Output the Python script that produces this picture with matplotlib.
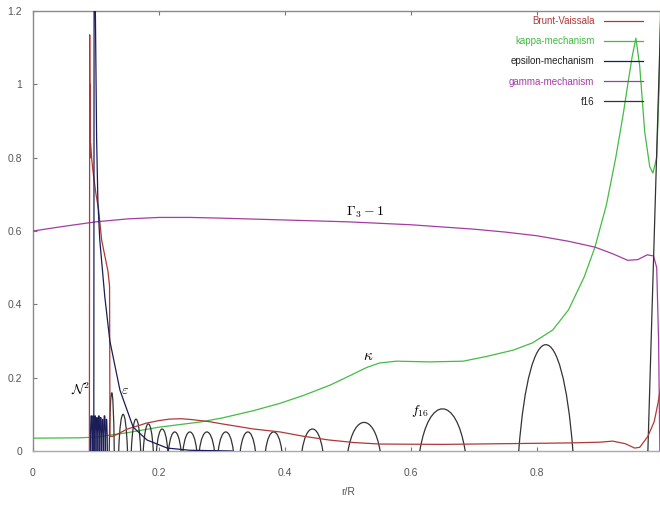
import matplotlib
matplotlib.use("Agg")
import matplotlib.pyplot as plt
from matplotlib.path import Path
from matplotlib.patches import PathPatch
from matplotlib.lines import Line2D

plt.rcParams['font.family'] = ['Liberation Sans', 'DejaVu Sans']
plt.rcParams['mathtext.fontset'] = 'cm'

# ---------------- data ----------------
bv_x = [0.0895, 0.0900, 0.0903, 0.0906, 0.0910, 0.0915, 0.093, 0.095, 0.100, 0.104,
        0.109, 0.119, 0.1215, 0.1222, 0.127, 0.15, 0.18, 0.20, 0.217, 0.235, 0.25,
        0.28, 0.30, 0.35, 0.392, 0.43, 0.47, 0.51, 0.55, 0.65, 0.75, 0.85, 0.90,
        0.92, 0.94, 0.955, 0.963, 0.976, 0.986, 0.992, 0.996]
bv_y = [0.0, 1.135, 0.90, 1.00, 0.80, 0.84, 0.80, 0.766, 0.70, 0.66,
        0.575, 0.49, 0.45, 0.04, 0.04, 0.06, 0.076, 0.083, 0.087, 0.088, 0.086,
        0.08, 0.074, 0.06, 0.052, 0.04, 0.03, 0.023, 0.019, 0.018, 0.02, 0.022, 0.024,
        0.027, 0.02, 0.008, 0.01, 0.04, 0.08, 0.13, 0.17]

kappa_x = [0.0, 0.075, 0.10, 0.15, 0.20, 0.265, 0.30, 0.35, 0.392, 0.43, 0.472,
           0.50, 0.53, 0.55, 0.577, 0.63, 0.683, 0.72, 0.762, 0.793, 0.825, 0.85,
           0.875, 0.892, 0.91, 0.925, 0.937, 0.945, 0.951, 0.957, 0.963, 0.971,
           0.979, 0.984, 0.990, 0.994, 0.9965]
kappa_y = [0.035, 0.036, 0.038, 0.05, 0.065, 0.079, 0.09, 0.11, 0.13, 0.152, 0.18,
           0.203, 0.228, 0.24, 0.245, 0.243, 0.245, 0.258, 0.275, 0.295, 0.33, 0.385,
           0.475, 0.556, 0.67, 0.8, 0.92, 1.01, 1.075, 1.126, 1.05, 0.87,
           0.775, 0.758, 0.80, 1.0, 1.25]

eps_x = [0.0965, 0.097, 0.099, 0.101, 0.103, 0.106, 0.114, 0.122, 0.138, 0.159, 0.181,
         0.213, 0.249, 0.316]
eps_y = [0.0, 1.3, 1.2, 0.85, 0.68, 0.575, 0.42, 0.30, 0.166, 0.065, 0.03,
         0.008, 0.002, 0.0]

gamma_x = [0.0, 0.05, 0.10, 0.15, 0.20, 0.25, 0.30, 0.40, 0.50, 0.60, 0.70, 0.75,
           0.80, 0.85, 0.892, 0.92, 0.944, 0.96, 0.975, 0.985, 0.990, 0.993, 0.995]
gamma_y = [0.60, 0.613, 0.625, 0.633, 0.637, 0.637, 0.635, 0.63, 0.625, 0.617, 0.605,
           0.597, 0.587, 0.572, 0.556, 0.538, 0.52, 0.522, 0.535, 0.532, 0.50, 0.3, 0.0]

# f16 arches: start, end, height
dense_start = [0.0910, 0.0940, 0.0970, 0.1000, 0.1030, 0.1060, 0.1090, 0.1120, 0.1150]
dense_end = [0.0940, 0.0970, 0.1000, 0.1030, 0.1060, 0.1090, 0.1120, 0.1150, 0.1180]
dense_h = [0.10, 0.10, 0.10, 0.095, 0.10, 0.095, 0.09, 0.10, 0.09]

arch_start = [0.121, 0.136, 0.156, 0.175, 0.196, 0.215, 0.238, 0.264, 0.294, 0.329,
              0.369, 0.427, 0.500, 0.614, 0.771]
arch_end = [0.129, 0.150, 0.171, 0.191, 0.214, 0.235, 0.260, 0.288, 0.318, 0.353,
            0.395, 0.460, 0.551, 0.686, 0.857]
arch_h = [0.16, 0.10, 0.087, 0.074, 0.06, 0.052, 0.052, 0.052, 0.052, 0.052,
          0.052, 0.06, 0.078, 0.115, 0.29]
f16_tail_x = [0.976, 0.9975]
f16_tail_y = [0.0, 1.25]

x_ticks = [0, 0.2, 0.4, 0.6, 0.8]
x_tick_labels = ["0", "0.2", "0.4", "0.6", "0.8"]
y_ticks = [0, 0.2, 0.4, 0.6, 0.8, 1.0, 1.2]
y_tick_labels = ["0", "0.2", "0.4", "0.6", "0.8", "1", "1.2"]

# ---------------- colors ----------------
c_bv = "#b03838"
c_kappa = "#44bb44"
c_eps = "#1c1c58"
c_gamma = "#a43ca4"
c_f16 = "#333333"

fig = plt.figure(figsize=(6.6, 5.12), dpi=100)
ax = fig.add_axes([33 / 660, 1 - 451 / 512, 630 / 660, 440 / 512])
ax.set_xlim(0, 1.0)
ax.set_ylim(0, 1.2)

lw = 0.9
ax.plot(kappa_x, kappa_y, color=c_kappa, lw=lw, zorder=3)
ax.plot(gamma_x, gamma_y, color=c_gamma, lw=lw, zorder=3)
ax.plot(bv_x, bv_y, color=c_bv, lw=lw, zorder=4)
ax.plot(eps_x, eps_y, color=c_eps, lw=lw, zorder=4)


def arch(x0, x1, h, color):
    w = x1 - x0
    verts = [(x0, 0), (x0 + 0.2 * w, 4 * h / 3), (x1 - 0.2 * w, 4 * h / 3), (x1, 0)]
    codes = [Path.MOVETO, Path.CURVE4, Path.CURVE4, Path.CURVE4]
    ax.add_patch(PathPatch(Path(verts, codes), fill=False, edgecolor=color, lw=lw, zorder=3))


for a, b, h in zip(dense_start, dense_end, dense_h):
    arch(a, b, h, c_eps)
for a, b, h in zip(arch_start, arch_end, arch_h):
    arch(a, b, h, c_f16)
ax.plot(f16_tail_x, f16_tail_y, color=c_f16, lw=lw, zorder=3)

# spines / ticks
for s in ["left", "top", "right"]:
    ax.spines[s].set_color("#8a8a8a")
ax.spines["bottom"].set_color("#a8a8b8")
for s in ax.spines.values():
    s.set_linewidth(1.0)
ax.set_xticks(x_ticks)
ax.set_xticklabels(x_tick_labels)
ax.set_yticks(y_ticks)
ax.set_yticklabels(y_tick_labels)
ax.tick_params(direction="in", length=3, width=0.8, color="#777777",
               labelsize=7.5, labelcolor="#555555", top=True)
ax.tick_params(axis="x", pad=12)
ax.tick_params(axis="y", pad=8)
ax.set_xlabel("r/R", fontsize=7.5, color="#555555", labelpad=7)

# annotations
ax.text(0.075, 0.17, r"$\mathcal{N}^2$", fontsize=10, ha="center", va="center")
ax.text(0.146, 0.165, r"$\varepsilon$", fontsize=10, ha="center", va="center")
ax.text(0.532, 0.258, r"$\kappa$", fontsize=11, ha="center", va="center")
ax.text(0.615, 0.11, r"$f_{16}$", fontsize=10, ha="center", va="center")
ax.text(0.527, 0.65, r"$\mathbf{\Gamma_3-1}$", fontsize=10, ha="center", va="center")

handles = [Line2D([], [], color=c_bv, lw=lw),
           Line2D([], [], color=c_kappa, lw=lw),
           Line2D([], [], color=c_eps, lw=lw),
           Line2D([], [], color=c_gamma, lw=lw),
           Line2D([], [], color=c_f16, lw=lw)]
labels = ["Brunt-Vaissala", "kappa-mechanism", "epsilon-mechanism", "gamma-mechanism", "f16"]
leg = fig.legend(handles, labels, loc="upper right", bbox_to_anchor=(643 / 660, 1 - 16 / 512),
                 frameon=False, markerfirst=False, fontsize=7, handlelength=4.0,
                 handletextpad=1.0, labelspacing=1.05, borderpad=0, borderaxespad=0)
text_colors = [c_bv, c_kappa, "#222222", c_gamma, "#222222"]
for t, c in zip(leg.get_texts(), text_colors):
    t.set_color(c)

fig.savefig("out.png", dpi=100)
